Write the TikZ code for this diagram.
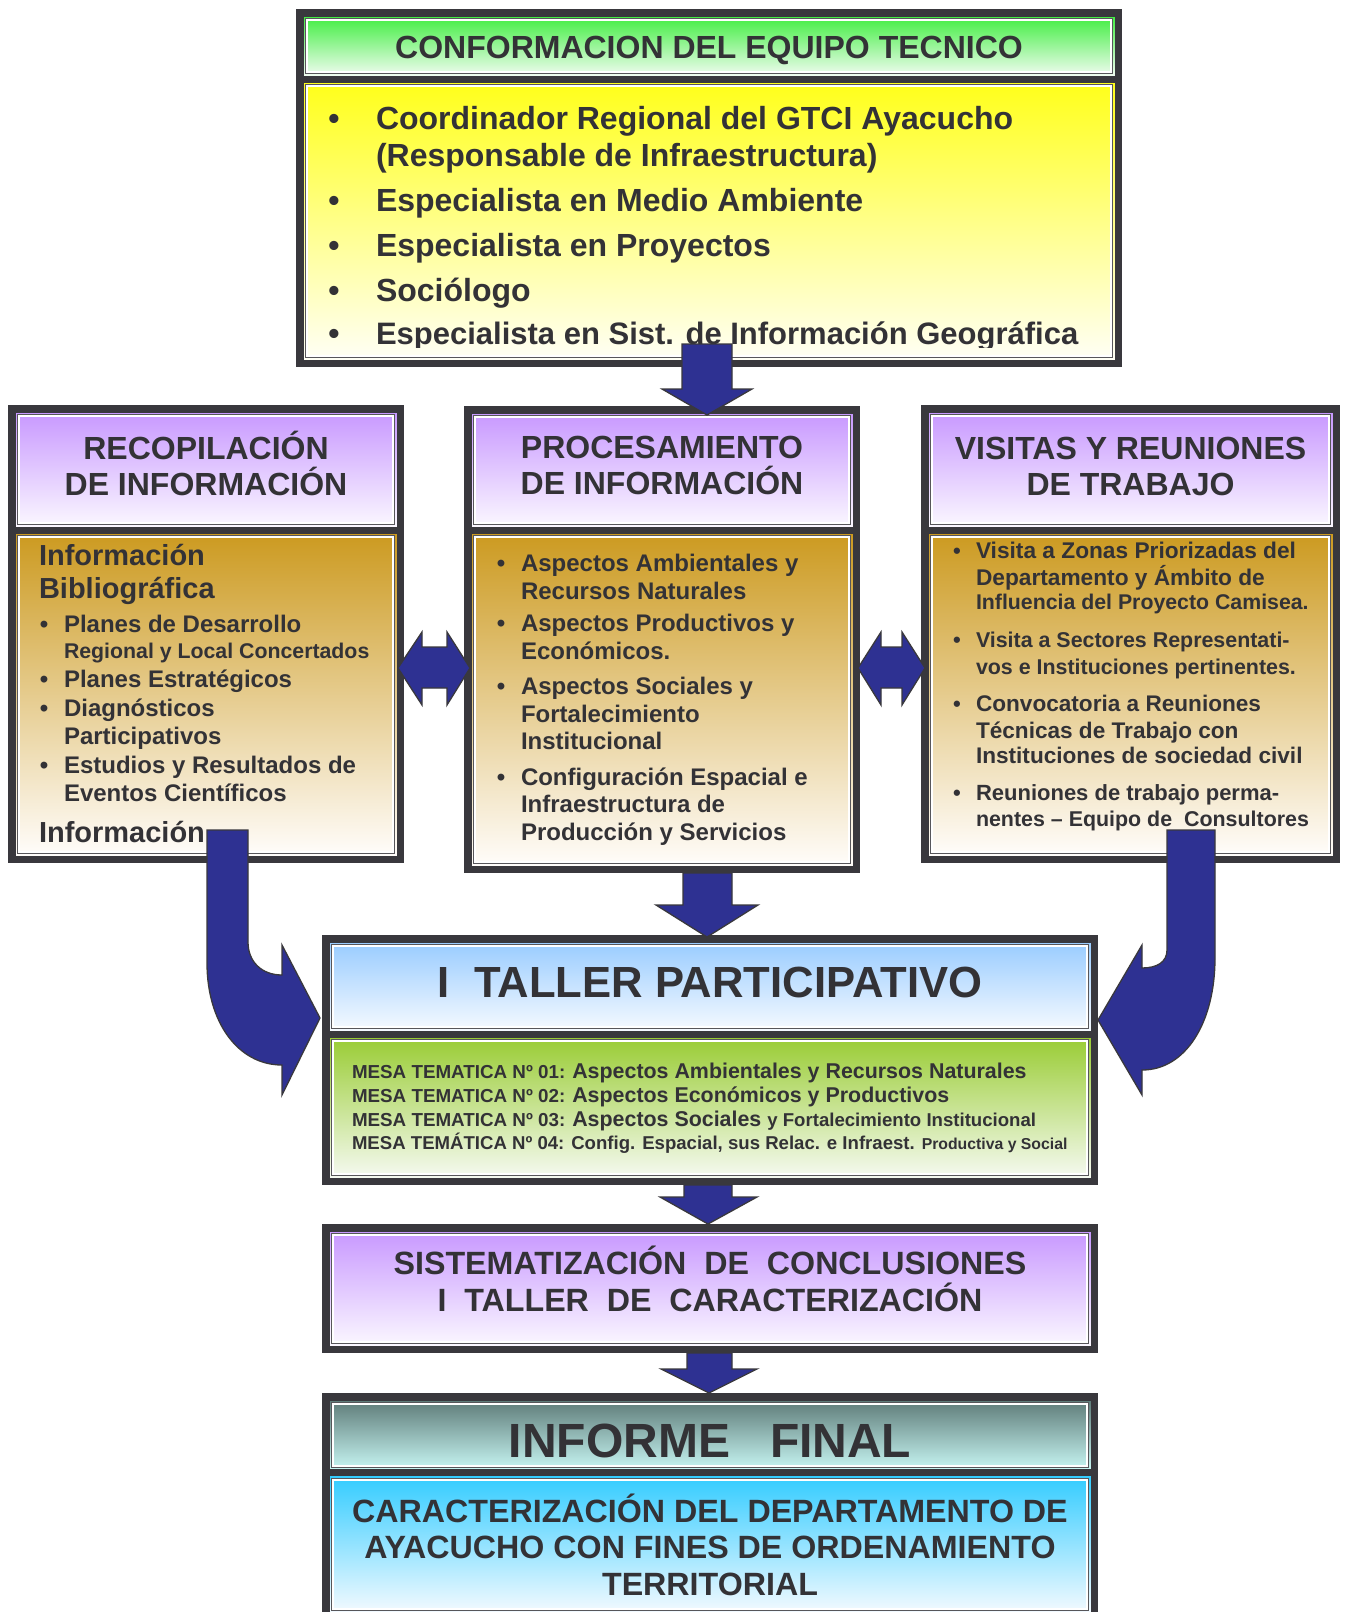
\documentclass[tikz,border=0pt]{standalone}
\usepackage{fontspec}
\setmainfont{Liberation Sans}
\definecolor{frm}{HTML}{39383D}
\definecolor{txt}{HTML}{333236}
\definecolor{navy}{HTML}{2E3192}
\definecolor{gTop}{HTML}{40EE40}
\definecolor{gBot}{HTML}{F2FCF2}
\definecolor{yTop}{HTML}{FFFF1A}
\definecolor{yBot}{HTML}{FFFFF6}
\definecolor{pTop}{HTML}{C898FF}
\definecolor{pBot}{HTML}{FBF8FF}
\definecolor{tTop}{HTML}{CC9A20}
\definecolor{tBot}{HTML}{FFFDFB}
\definecolor{bTop}{HTML}{99CCFF}
\definecolor{bBot}{HTML}{F6FAFF}
\definecolor{lTop}{HTML}{99CC33}
\definecolor{lBot}{HTML}{F6FAF2}
\definecolor{iTop}{HTML}{5E7B78}
\definecolor{iBot}{HTML}{C8F7F4}
\definecolor{cTop}{HTML}{33CCFF}
\definecolor{cBot}{HTML}{F4FAFF}
\newcommand\fsz[1]{\fontsize{#1}{#1}\selectfont}
\newcommand\panelnode[7]{\node[panel, top color=#6, bottom color=#7, minimum width=#4, minimum height=#5] (#1) at (#2,#3) {};}
\newcommand\framenode[5]{\node[framebox, minimum width=#4, minimum height=#5] (#1) at (#2,#3) {};}
\newcommand\innerlines[1]{%
  \draw[frm!85, line width=1.1pt] ([shift={(2.5,2.5)}]#1.north west) rectangle ([shift={(-2.5,-2.5)}]#1.south east);
  \draw[white, line width=1.6pt] ([shift={(4.2,4.2)}]#1.north west) rectangle ([shift={(-4.2,-4.2)}]#1.south east);}
\newcommand\TL[5]{\node[lbl, font=\bfseries\fsz{#4}] (#1) at (#2,#3) {#5};}
\newcommand\TC[5]{\node[ctr, font=\bfseries\fsz{#4}] (#1) at (#2,#3) {#5};}
\newcommand\BU[4]{\node[ctr, font=\bfseries\fsz{#4}] (#1) at (#2,#3) {\textbullet};}
\begin{document}
\begin{tikzpicture}[x=1pt,y=-1pt,
  panel/.style={rectangle, inner sep=0pt, outer sep=0pt, draw=none},
  framebox/.style={rectangle, draw=frm, line width=7.5pt, inner sep=0pt, outer sep=0pt},
  sepline/.style={draw=frm, line width=7pt},
  lbl/.style={text=txt, inner sep=0pt, outer sep=0pt, anchor=base west},
  ctr/.style={text=txt, inner sep=0pt, outer sep=0pt, anchor=base},
  blockarrow/.style={fill=navy, draw=frm, line width=1.3pt, line join=miter}]
\useasboundingbox (0,0) rectangle (1345,1612);
\clip (0,0) rectangle (1345,1612);
\fill[white] (0,0) rectangle (1345,1612);
% ---------- panels
\panelnode{topHead}{709}{46}{812}{60}{gTop}{gBot}
\panelnode{topBody}{709}{221}{812}{278}{yTop}{yBot}
\panelnode{recHead}{206}{469.5}{382}{115}{pTop}{pBot}
\panelnode{recBody}{206}{694.5}{382}{323}{tTop}{tBot}
\panelnode{proHead}{662}{470}{382}{114}{pTop}{pBot}
\panelnode{proBody}{662}{699.5}{382}{333}{tTop}{tBot}
\panelnode{visHead}{1130.5}{469.5}{405}{115}{pTop}{pBot}
\panelnode{visBody}{1130.5}{694.5}{405}{323}{tTop}{tBot}
\panelnode{talHead}{710}{986.5}{762}{89}{bTop}{bBot}
\panelnode{talBody}{710}{1107.5}{762}{141}{lTop}{lBot}
\panelnode{sisBody}{710}{1288.5}{762}{115}{pTop}{pBot}
\panelnode{infHead}{710}{1435}{762}{70}{iTop}{iBot}
\panelnode{infBody}{710}{1544.5}{762}{137}{cTop}{cBot}
\foreach \n in {topHead,topBody,recHead,recBody,proHead,proBody,visHead,visBody,talHead,talBody,sisBody,infHead,infBody}{\innerlines{\n}}
% ---------- frames
\framenode{topBox}{709}{188}{818.5}{350.5}
\framenode{recBox}{206}{634}{388.5}{450.5}
\framenode{proBox}{662}{639.5}{388.5}{459.5}
\framenode{visBox}{1130.5}{634}{411.5}{450.5}
\framenode{talBox}{710}{1060}{768.5}{242.5}
\framenode{sisBox}{710}{1288.5}{768.5}{121.5}
\framenode{infBox}{710}{1506.5}{768.5}{219.5}
\draw[sepline] (300,79) -- (1118,79);
\draw[sepline] (12,530) -- (400,530);
\draw[sepline] (468,530) -- (856,530);
\draw[sepline] (925,530) -- (1336,530);
\draw[sepline] (326,1034) -- (1094,1034);
\draw[sepline] (326,1472) -- (1094,1472);
% ---------- top box text
\TC{tT}{709}{58.5}{32}{CONFORMACION DEL EQUIPO TECNICO}
\begin{scope}
\clip (303,82) rectangle (1115,347.5);
\BU{b1}{334}{129.5}{32}\TL{l1}{376}{129.5}{32}{Coordinador Regional del GTCI Ayacucho}
\TL{l2}{376}{166.5}{32}{(Responsable de Infraestructura)}
\BU{b2}{334}{211.5}{32}\TL{l3}{376}{211.5}{32}{Especialista en Medio Ambiente}
\BU{b3}{334}{256.5}{32}\TL{l4}{376}{256.5}{32}{Especialista en Proyectos}
\BU{b4}{334}{301.5}{32}\TL{l5}{376}{301.5}{32}{Sociólogo}
\BU{b5}{334}{344.5}{32}\TL{l6}{376}{344.5}{31}{Especialista en Sist. de Información Geográfica}
\end{scope}
% ---------- recopilacion
\TC{rh1}{206}{459.5}{32}{RECOPILACIÓN}
\TC{rh2}{206}{495.5}{32}{DE INFORMACIÓN}
\TL{r1}{39}{565}{29}{Información}
\TL{r2}{39}{598.5}{29}{Bibliográfica}
\BU{rb1}{44}{632.5}{24}\TL{r3}{64}{632.5}{24}{Planes de Desarrollo}
\TL{r4}{64}{658.5}{21.3}{Regional y Local Concertados}
\BU{rb2}{44}{687}{24}\TL{r5}{64}{687}{24}{Planes Estratégicos}
\BU{rb3}{44}{716}{24}\TL{r6}{64}{716}{24}{Diagnósticos}
\TL{r7}{64}{744}{24}{Participativos}
\BU{rb4}{44}{773}{24}\TL{r8}{64}{773}{24}{Estudios y Resultados de}
\TL{r9}{64}{801}{24}{Eventos Científicos}
\TL{r10}{39}{842}{29}{Información}
% ---------- procesamiento
\TC{ph1}{662}{458.5}{32}{PROCESAMIENTO}
\TC{ph2}{662}{494.5}{32}{DE INFORMACIÓN}
\BU{pb1}{501}{571.5}{24}\TL{p1}{521}{571.5}{24}{Aspectos Ambientales y}
\TL{p2}{521}{599.5}{24}{Recursos Naturales}
\BU{pb2}{501}{631.5}{24}\TL{p3}{521}{631.5}{24}{Aspectos Productivos y}
\TL{p4}{521}{659.5}{24}{Económicos.}
\BU{pb3}{501}{694.5}{24}\TL{p5}{521}{694.5}{24}{Aspectos Sociales y}
\TL{p6}{521}{722.5}{24}{Fortalecimiento}
\TL{p7}{521}{749.5}{24}{Institucional}
\BU{pb4}{501}{785.5}{24}\TL{p8}{521}{785.5}{24}{Configuración Espacial e}
\TL{p9}{521}{812.5}{24}{Infraestructura de}
\TL{p10}{521}{840.5}{24}{Producción y Servicios}
% ---------- visitas
\TC{vh1}{1130.5}{459.5}{32}{VISITAS Y REUNIONES}
\TC{vh2}{1130.5}{495.5}{32}{DE TRABAJO}
\BU{vb1}{957}{558}{22}\TL{v1}{976}{558}{22.7}{Visita a Zonas Priorizadas del}
\TL{v2}{976}{585}{22.7}{Departamento y Ámbito de}
\TL{v3}{976}{609.5}{21.3}{Influencia del Proyecto Camisea.}
\BU{vb2}{957}{647.5}{22}\TL{v4}{976}{647.5}{21.4}{Visita a Sectores Representati-}
\TL{v5}{976}{674.5}{21.4}{vos e Instituciones pertinentes.}
\BU{vb3}{957}{711}{22}\TL{v6}{976}{711}{22.6}{Convocatoria a Reuniones}
\TL{v7}{976}{738}{22.6}{Técnicas de Trabajo con}
\TL{v8}{976}{763}{22.6}{Instituciones de sociedad civil}
\BU{vb4}{957}{800}{22}\TL{v9}{976}{800}{22}{Reuniones de trabajo perma-}
\TL{v10}{976}{826}{21.4}{nentes – Equipo de\ \ Consultores}
% ---------- taller
\TC{tt}{710}{997}{43.6}{I\ \ TALLER PARTICIPATIVO}
\node[lbl, font=\bfseries] (m1) at (352,1078) {\fsz{18.8}MESA TEMATICA Nº 01: \fsz{21.4}Aspectos Ambientales y Recursos Naturales};
\node[lbl, font=\bfseries] (m2) at (352,1102) {\fsz{18.8}MESA TEMATICA Nº 02: \fsz{21.4}Aspectos Económicos y Productivos};
\node[lbl, font=\bfseries] (m3) at (352,1126) {\fsz{18.8}MESA TEMATICA Nº 03: \fsz{21.4}Aspectos Sociales \fsz{18.6}y Fortalecimiento Institucional};
\node[lbl, font=\bfseries] (m4) at (352,1149) {\fsz{18.6}MESA TEMÁTICA Nº 04: Config. Espacial, sus Relac. e Infraest. \fsz{15.8}Productiva y Social};
% ---------- sistematizacion
\TC{s1}{710}{1274.5}{32.2}{SISTEMATIZACIÓN\ \ DE\ \ CONCLUSIONES}
\TC{s2}{710}{1311.5}{32.2}{I\ \ TALLER\ \ DE\ \ CARACTERIZACIÓN}
% ---------- informe
\TC{i0}{710}{1457}{48}{INFORME\ \ \ FINAL}
\TC{i1}{710}{1522.5}{32.2}{CARACTERIZACIÓN DEL DEPARTAMENTO DE}
\TC{i2}{710}{1558.5}{32.2}{AYACUCHO CON FINES DE ORDENAMIENTO}
\TC{i3}{710}{1595.5}{32.2}{TERRITORIAL}
% ---------- block arrows
\draw[blockarrow] (682,344) -- (732,344) -- (732,389) -- (752,389) -- (707,415) -- (662,389) -- (682,389) -- cycle;
\draw[blockarrow] (683,873) -- (732,873) -- (732,905) -- (758,905) -- (707,937) -- (656,905) -- (683,905) -- cycle;
\draw[blockarrow] (684,1185) -- (732,1185) -- (732,1197) -- (757,1197) -- (708,1224) -- (660,1197) -- (684,1197) -- cycle;
\draw[blockarrow] (687,1353) -- (732,1353) -- (732,1369) -- (757,1369) -- (709,1393) -- (661,1369) -- (687,1369) -- cycle;
% double arrows
\draw[blockarrow] (398,668) -- (422,632) -- (422,647) -- (447,647) -- (447,632) -- (470,668) -- (447,705) -- (447,688) -- (422,688) -- (422,705) -- cycle;
\draw[blockarrow] (858,668) -- (881,632) -- (881,647) -- (902,647) -- (902,632) -- (925,668) -- (902,705) -- (902,688) -- (881,688) -- (881,705) -- cycle;
% curved arrows
\draw[blockarrow] (207,830) -- (248,830) -- (248,942) .. controls (248,962) and (262,975) .. (282,975) -- (282,945) -- (320,1018) -- (282,1095) -- (282,1065) .. controls (238,1065) and (207,1022) .. (207,963) -- cycle;
\draw[blockarrow] (1215,830) -- (1167,830) -- (1167,950) .. controls (1167,962) and (1157,968) .. (1142,968) -- (1142,945) -- (1098,1020) -- (1142,1095) -- (1142,1070) .. controls (1186,1070) and (1215,1022) .. (1215,958) -- cycle;
\end{tikzpicture}
\end{document}
